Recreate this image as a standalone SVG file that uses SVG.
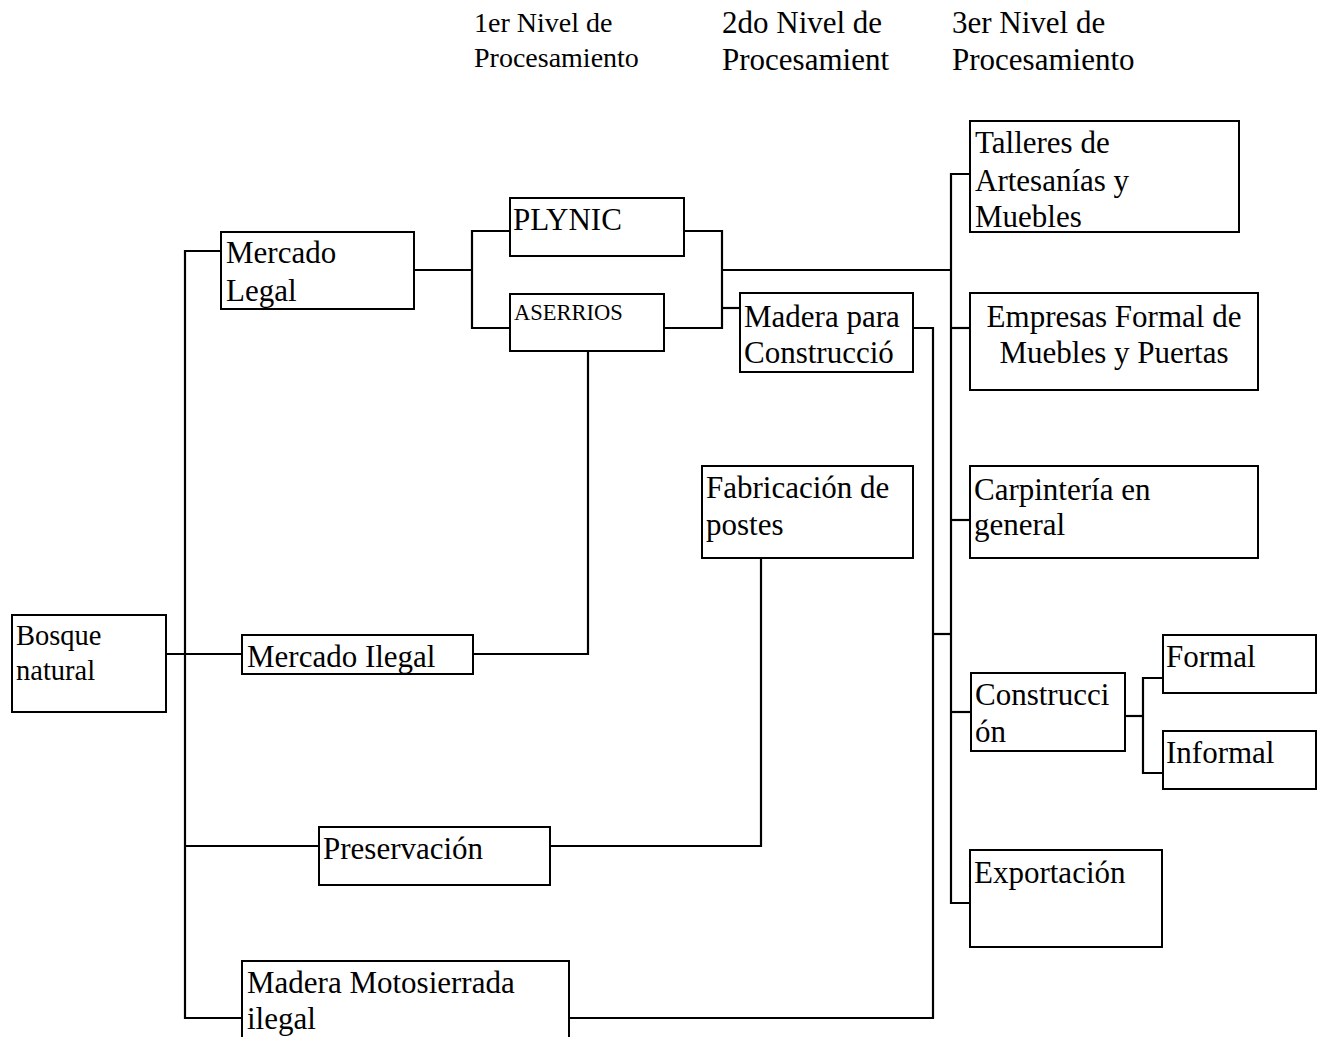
<svg xmlns="http://www.w3.org/2000/svg" width="1329" height="1037" viewBox="0 0 1329 1037">
<style>
.box{fill:#fff;stroke:#000;stroke-width:2}
.ln{fill:none;stroke:#000;stroke-width:2.2}
text{font-family:"Liberation Serif","Times New Roman",serif;fill:#000}
.t{font-size:31px}
.h1{font-size:28px}
.h2{font-size:31px}
</style>
<rect width="1329" height="1037" fill="#fff"/>
<g id="headers">
<text class="h1" x="474" y="32">1er Nivel de</text>
<text class="h1" x="474" y="67">Procesamiento</text>
<text class="h2" x="722" y="33">2do Nivel de</text>
<text class="h2" x="722" y="70">Procesamient</text>
<text class="h2" x="952" y="33">3er Nivel de</text>
<text class="h2" x="952" y="70">Procesamiento</text>
</g>
<g id="connectors">
<polyline class="ln" points="166,654 242,654"/>
<polyline class="ln" points="221,251 185,251 185,1018 242,1018"/>
<polyline class="ln" points="185,846 319,846"/>
<polyline class="ln" points="414,270 472,270"/>
<polyline class="ln" points="510,231 472,231 472,328 510,328"/>
<polyline class="ln" points="684,231 722,231 722,328 664,328"/>
<polyline class="ln" points="722,308 740,308"/>
<polyline class="ln" points="722,270 951,270"/>
<polyline class="ln" points="970,174 951,174 951,903 970,903"/>
<polyline class="ln" points="951,328 970,328"/>
<polyline class="ln" points="951,520 970,520"/>
<polyline class="ln" points="951,712 971,712"/>
<polyline class="ln" points="913,328 933,328 933,1018 569,1018"/>
<polyline class="ln" points="933,634 951,634"/>
<polyline class="ln" points="473,654 588,654 588,347"/>
<polyline class="ln" points="550,846 761,846 761,558"/>
<polyline class="ln" points="1125,716 1143,716"/>
<polyline class="ln" points="1163,678 1143,678 1143,773 1163,773"/>
</g>
<g id="bosque"><rect class="box" x="12" y="615" width="154" height="97"/><text x="16" y="645" font-size="28.5">Bosque</text><text x="16" y="680" font-size="28.5">natural</text></g>
<g id="mercado-legal"><rect class="box" x="221" y="232" width="193" height="77"/><text class="t" x="226" y="263">Mercado</text><text class="t" x="226" y="301">Legal</text></g>
<g id="plynic"><rect class="box" x="510" y="198" width="174" height="58"/><text class="t" x="513" y="230">PLYNIC</text></g>
<g id="aserrios"><rect class="box" x="510" y="294" width="154" height="57"/><text x="514" y="320" font-size="22.5">ASERRIOS</text></g>
<g id="madera-construccion"><rect class="box" x="740" y="293" width="173" height="79"/><text class="t" x="744" y="327">Madera para</text><text class="t" x="744" y="363">Construcció</text></g>
<g id="talleres"><rect class="box" x="970" y="121" width="269" height="111"/><text class="t" x="975" y="153">Talleres de</text><text class="t" x="975" y="191">Artesanías y</text><text class="t" x="975" y="227">Muebles</text></g>
<g id="empresas"><rect class="box" x="970" y="293" width="288" height="97"/><text class="t" x="1114" y="327" text-anchor="middle">Empresas Formal de</text><text class="t" x="1114" y="363" text-anchor="middle">Muebles y Puertas</text></g>
<g id="fabricacion"><rect class="box" x="702" y="466" width="211" height="92"/><text class="t" x="706" y="498">Fabricación de</text><text class="t" x="706" y="535">postes</text></g>
<g id="carpinteria"><rect class="box" x="970" y="466" width="288" height="92"/><text class="t" x="974" y="500">Carpintería en</text><text class="t" x="974" y="535">general</text></g>
<g id="mercado-ilegal"><rect class="box" x="242" y="635" width="231" height="39"/><text class="t" x="247" y="667">Mercado Ilegal</text></g>
<g id="construccion"><rect class="box" x="971" y="673" width="154" height="78"/><text class="t" x="975" y="705">Construcci</text><text class="t" x="975" y="742">ón</text></g>
<g id="formal"><rect class="box" x="1163" y="635" width="153" height="58"/><text class="t" x="1166" y="667">Formal</text></g>
<g id="informal"><rect class="box" x="1163" y="731" width="153" height="58"/><text class="t" x="1166" y="763">Informal</text></g>
<g id="preservacion"><rect class="box" x="319" y="827" width="231" height="58"/><text class="t" x="323" y="859">Preservación</text></g>
<g id="exportacion"><rect class="box" x="970" y="850" width="192" height="97"/><text class="t" x="974" y="883">Exportación</text></g>
<g id="motosierrada"><rect class="box" x="242" y="961" width="327" height="90"/><text class="t" x="247" y="993">Madera Motosierrada</text><text class="t" x="247" y="1029">ilegal</text></g>
</svg>
